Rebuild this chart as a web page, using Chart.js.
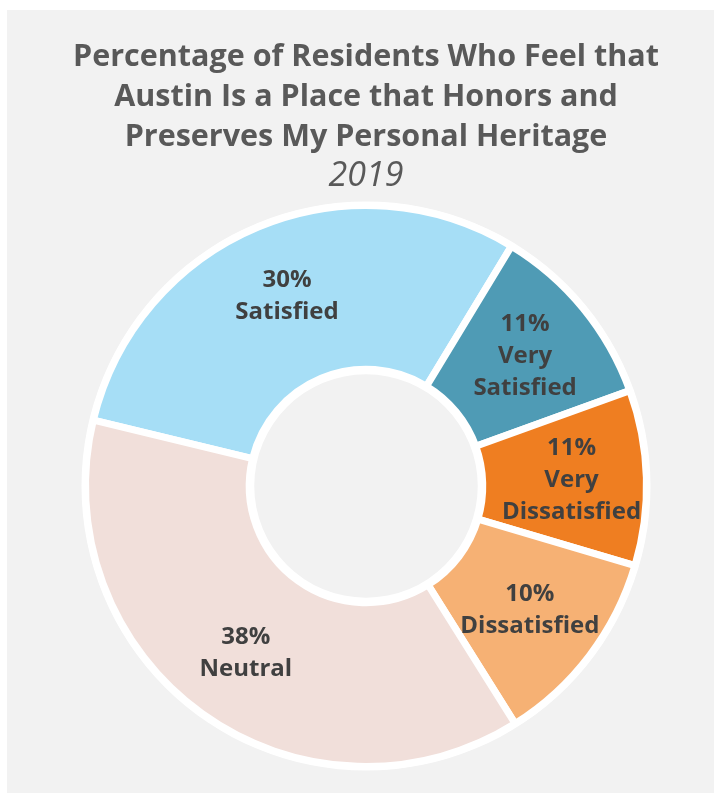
<!DOCTYPE html>
<html>
<head>
<meta charset="utf-8">
<script src="https://cdn.jsdelivr.net/npm/chart.js@4"></script>
<style>
  body { margin: 0; background: #ffffff; }
  #wrap { position: absolute; left: 7px; top: 10px; width: 707px; height: 783px; background: #f2f2f2; }
</style>
</head>
<body>
<div id="wrap"><canvas id="chart" width="707" height="783"></canvas></div>
<script>
// slices in drawing order (clockwise, starting at the left of the ring)
const categories = ['Satisfied', 'Very Satisfied', 'Very Dissatisfied', 'Dissatisfied', 'Neutral'];
const shares = [29.9, 10.8, 10.1, 11.5, 37.7];          // slice sizes
const pctLabels = ['30%', '11%', '11%', '10%', '38%'];  // printed percentages
const labelLines = [['Satisfied'], ['Very', 'Satisfied'], ['Very', 'Dissatisfied'], ['Dissatisfied'], ['Neutral']];
const colors = ['#a6def6', '#4f9bb5', '#ef7e21', '#f6b174', '#f1dfda'];

const titleLines = ['Percentage of Residents Who Feel that', 'Austin Is a Place that Honors and', 'Preserves My Personal Heritage'];
const subtitleText = '2019';

// white ring behind the slices, so the outer/inner edges get a thick white rim
const ringBack = {
  id: 'ringBack',
  beforeDatasetsDraw(chart) {
    const arc = chart.getDatasetMeta(0).data[0];
    if (!arc) return;
    const { x, y, innerRadius, outerRadius } = arc.getProps(['x', 'y', 'innerRadius', 'outerRadius'], true);
    const ctx = chart.ctx;
    ctx.save();
    ctx.fillStyle = '#ffffff';
    ctx.beginPath();
    ctx.arc(x, y, outerRadius + 4, 0, Math.PI * 2);
    ctx.arc(x, y, Math.max(innerRadius - 5, 0), 0, Math.PI * 2, true);
    ctx.fill('evenodd');
    ctx.restore();
  }
};

// percentage + category text inside each slice
const sliceLabels = {
  id: 'sliceLabels',
  afterDatasetsDraw(chart) {
    const ctx = chart.ctx;
    const meta = chart.getDatasetMeta(0);
    ctx.save();
    ctx.fillStyle = '#404040';
    ctx.font = 'bold 24px "Open Sans"';
    ctx.textAlign = 'center';
    ctx.textBaseline = 'middle';
    meta.data.forEach((arc, i) => {
      const p = arc.getProps(['x', 'y', 'startAngle', 'endAngle', 'innerRadius', 'outerRadius'], true);
      const mid = (p.startAngle + p.endAngle) / 2;
      const r = (p.innerRadius + p.outerRadius) / 2 + 7;
      const cx = p.x + Math.cos(mid) * r;
      const cy = p.y + Math.sin(mid) * r;
      const lines = [pctLabels[i], ...labelLines[i]];
      const lh = 32;
      const y0 = cy - (lines.length - 1) * lh / 2;
      lines.forEach((t, k) => ctx.fillText(t, cx, y0 + k * lh));
    });
    ctx.restore();
  }
};

new Chart(document.getElementById('chart'), {
  type: 'doughnut',
  data: {
    labels: categories,
    datasets: [{
      data: shares,
      backgroundColor: colors,
      borderColor: '#ffffff',
      borderWidth: 7,
      hoverOffset: 0,
    }],
  },
  options: {
    responsive: false,
    animation: false,
    rotation: -76.4,
    radius: 280.5,
    cutout: 120.5,
    layout: { padding: { left: 11, right: 0, top: 0, bottom: 14 } },
    plugins: {
      legend: { display: false },
      tooltip: { enabled: false },
      title: {
        display: true,
        text: titleLines,
        color: '#595959',
        font: { family: '"Open Sans"', size: 30.5, weight: 'bold', lineHeight: 1.3115 },
        padding: { top: 27, bottom: 0 },
      },
      subtitle: {
        display: true,
        text: subtitleText,
        color: '#595959',
        font: { family: '"Open Sans"', size: 34, style: 'italic', weight: 'normal', lineHeight: 1.0 },
        padding: { top: 2, bottom: 0 },
      },
    },
  },
  plugins: [ringBack, sliceLabels],
});
</script>
</body>
</html>
